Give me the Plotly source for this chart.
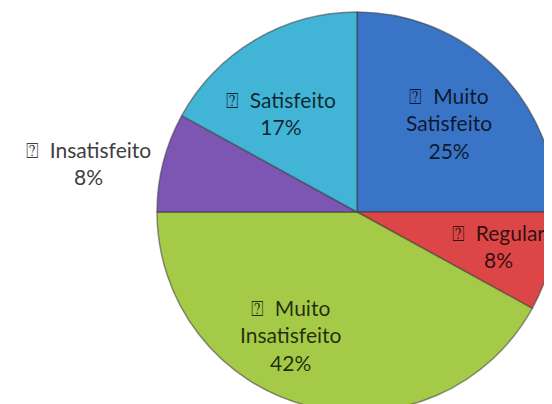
import math
import plotly.graph_objects as go

categories = ["Muito Satisfeito", "Regular", "Muito Insatisfeito", "Insatisfeito", "Satisfeito"]
values = [25, 8, 42, 8, 17]
colors = ["#3a74c6", "#dc4646", "#a5ca48", "#7d55b2", "#42b4d6"]

# label placement style: radial fraction and angular offset (deg) from slice mid-angle
label_r = [0.64, 0.725, 0.70, 1.365, 0.625]
label_da = [1, -1, 14, -4, -7]
label_inside = [True, True, True, False, True]

box = "\u2370"
sp = "\u00a0\u00a0"

W, H = 552, 404
dom_x = [149 / W, 549 / W]
dom_y = [0.0, 1 - 4 / H]

fig = go.Figure(go.Pie(
    labels=categories,
    values=values,
    textinfo="none",
    sort=False,
    direction="clockwise",
    rotation=0,
    marker=dict(colors=colors, line=dict(color="rgba(60,60,60,0.55)", width=1.5)),
    domain=dict(x=dom_x, y=dom_y),
    hoverinfo="label+percent",
    showlegend=False,
))

# pie geometry in pixels (derived from domain)
cx = (dom_x[0] + dom_x[1]) / 2 * W
cy = (1 - (dom_y[0] + dom_y[1]) / 2) * H
R_lab = 200

total = sum(values)
cum = 0
for i, (c, v) in enumerate(zip(categories, values)):
    mid = (cum + v / 2) / total * 360
    cum += v
    ang = math.radians(mid + label_da[i])
    r = label_r[i] * R_lab
    px = cx + r * math.sin(ang)
    py = cy - r * math.cos(ang)
    parts = c.split(" ", 1)
    if len(parts) == 2:
        name = box + sp + parts[0] + "<br>" + parts[1]
    else:
        name = box + sp + c
    txt = name + "<br>" + str(v) + "%"
    fig.add_annotation(
        x=px / W, y=1 - py / H, xref="paper", yref="paper",
        text=txt, showarrow=False, align="center",
        xanchor="center", yanchor="middle",
        font=dict(family="Lato, Open Sans, sans-serif", size=21,
                  color="rgba(0,0,0,0.78)" if label_inside[i] else "#404040"),
    )

fig.update_layout(
    width=W, height=H,
    margin=dict(l=0, r=0, t=0, b=0),
    paper_bgcolor="white",
    plot_bgcolor="white",
)

fig.write_html("out.html")
